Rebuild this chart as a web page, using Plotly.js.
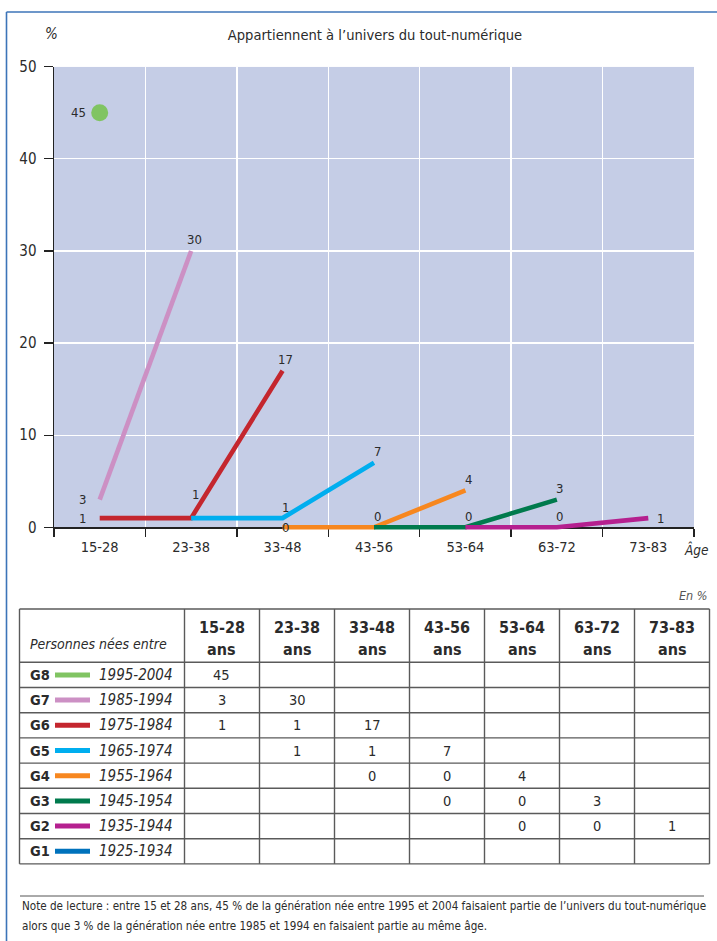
<!DOCTYPE html>
<html><head><meta charset="utf-8">
<script src="https://cdn.plot.ly/plotly-3.0.1.min.js"></script>
<style>html,body{margin:0;padding:0;background:#fff}#chart{width:717px;height:941px}</style>
</head><body><div id="chart"></div>
<script>
// ---------- DATA ----------
const ages = ['15-28','23-38','33-48','43-56','53-64','63-72','73-83'];
const genNames = ['G8','G7','G6','G5','G4','G3','G2','G1'];
const birthYears = ['1995-2004','1985-1994','1975-1984','1965-1974','1955-1964','1945-1954','1935-1944','1925-1934'];
const g8 = [45, null, null, null, null, null, null];
const g7 = [3, 30, null, null, null, null, null];
const g6 = [1, 1, 17, null, null, null, null];
const g5 = [null, 1, 1, 7, null, null, null];
const g4 = [null, null, 0, 0, 4, null, null];
const g3 = [null, null, null, 0, 0, 3, null];
const g2 = [null, null, null, null, 0, 0, 1];
const g1 = [null, null, null, null, null, null, null];
const seriesValues = [g8, g7, g6, g5, g4, g3, g2, g1];

// ---------- STYLE ----------
const genColors = ['#80c462','#cc90c4','#c4262e','#00aeef','#f7871f','#007a4d','#b5208f','#0072bc'];
// label placement per point: L=left, R=right, T=top, T2=higher top, C=centre, ''=hidden
const labelPos = [
  ['L'],
  ['L','T'],
  ['L','T2','T'],
  [null,'','T','T'],
  [null,null,'C','T','T'],
  [null,null,null,'','T','T'],
  [null,null,null,null,'','T','R'],
  []
];
const W = 717, H = 941;
const FONT = '"Liberation Sans Narrow","Arial Narrow","DejaVu Sans Condensed",sans-serif';
const TXT = '#2b2b2b';
const px = x => x / W, py = y => 1 - y / H;

// ---------- TRACES ----------
const traces = [];
seriesValues.forEach((vals, i) => {
  const isSingle = vals.filter(v => v !== null).length === 1;
  traces.push({
    type: 'scatter',
    x: ages, y: vals,
    mode: isSingle ? 'markers' : 'lines',
    line: {color: genColors[i], width: 4.6},
    marker: {color: genColors[i], size: 17},
    connectgaps: false, hoverinfo: 'skip', showlegend: false
  });
});

// ---------- ANNOTATIONS ----------
const ann = [];
seriesValues.forEach((vals, i) => {
  vals.forEach((v, j) => {
    const p = (labelPos[i] || [])[j];
    if (v === null || !p) return;
    const a = {xref: 'x', yref: 'y', x: ages[j], y: v, text: String(v), showarrow: false,
      font: {family: FONT, size: 13, color: TXT}, xanchor: 'center', yanchor: 'middle'};
    if (p === 'L') { a.xanchor = 'right'; a.xshift = -12; }
    if (p === 'R') { a.xanchor = 'left'; a.xshift = 7; }
    if (p === 'T') { a.xshift = 3; a.yshift = 11; }
    if (p === 'T2') { a.xshift = 4; a.yshift = 24; }
    if (p === 'C') { a.xshift = 3; a.yshift = 0; }
    ann.push(a);
  });
});
// axis decorations
ann.push({xref:'paper', yref:'paper', x: px(52), y: py(34), text:'<i>%</i>', showarrow:false,
  font:{family:FONT,size:15,color:TXT}, xanchor:'center', yanchor:'middle'});
ann.push({xref:'paper', yref:'paper', x: px(682), y: py(549), text:'<i>Âge</i>', showarrow:false,
  font:{family:FONT,size:13.5,color:TXT}, xanchor:'left', yanchor:'middle'});

// ---------- TABLE (shapes + annotations) ----------
const shapes = [];
const colX = [19.5,184.5,259.5,334.5,409.5,484.5,559.5,634.5,709.5];
const headTop = 609, headBot = 662.3, rowH = 25.2;
const rowY = [headTop, headBot];
for (let r = 1; r <= genNames.length; r++) rowY.push(headBot + r * rowH);
const tblBot = rowY[rowY.length - 1];
const gridCol = '#5a5a5a';
rowY.forEach(y => shapes.push({type:'line', xref:'paper', yref:'paper', x0:px(colX[0]), x1:px(colX[colX.length-1]), y0:py(y), y1:py(y), line:{color:gridCol,width:1.4}}));
colX.forEach(x => shapes.push({type:'line', xref:'paper', yref:'paper', x0:px(x), x1:px(x), y0:py(headTop), y1:py(tblBot), line:{color:gridCol,width:1.4}}));

ann.push({xref:'paper', yref:'paper', x: px(710), y: py(595), text:'<i>En %</i>', showarrow:false,
  font:{family:FONT,size:12.5,color:'#555'}, xanchor:'right', yanchor:'middle'});
ann.push({xref:'paper', yref:'paper', x: px(27.5), y: py(644), text:'<i>Personnes nées entre</i>', showarrow:false,
  font:{family:FONT,size:14,color:TXT}, xanchor:'left', yanchor:'middle'});
ages.forEach((ag, c) => {
  const cx = (colX[c+1] + colX[c+2]) / 2;
  ann.push({xref:'paper', yref:'paper', x: px(cx), y: py(627), text:'<b>'+ag+'</b>', showarrow:false,
    font:{family:FONT,size:16,color:TXT}, xanchor:'center', yanchor:'middle'});
  ann.push({xref:'paper', yref:'paper', x: px(cx), y: py(649), text:'<b>ans</b>', showarrow:false,
    font:{family:FONT,size:16,color:TXT}, xanchor:'center', yanchor:'middle'});
});
genNames.forEach((g, r) => {
  const cy = (rowY[r+1] + rowY[r+2]) / 2;
  ann.push({xref:'paper', yref:'paper', x: px(27.5), y: py(cy), text:'<b>'+g+'</b>', showarrow:false,
    font:{family:FONT,size:14.5,color:TXT}, xanchor:'left', yanchor:'middle'});
  shapes.push({type:'line', xref:'paper', yref:'paper', x0:px(55), x1:px(90), y0:py(cy), y1:py(cy), line:{color:genColors[r], width:5}});
  ann.push({xref:'paper', yref:'paper', x: px(96.7), y: py(cy), text:'<i>'+birthYears[r]+'</i>', showarrow:false,
    font:{family:FONT,size:15,color:TXT}, xanchor:'left', yanchor:'middle'});
  seriesValues[r].forEach((v, c) => {
    if (v === null) return;
    const cx = (colX[c+1] + colX[c+2]) / 2;
    ann.push({xref:'paper', yref:'paper', x: px(cx), y: py(cy), text:String(v), showarrow:false,
      font:{family:FONT,size:14.5,color:TXT}, xanchor:'center', yanchor:'middle'});
  });
});

// note
shapes.push({type:'line', xref:'paper', yref:'paper', x0:px(20), x1:px(704), y0:py(896), y1:py(896), line:{color:'#555',width:1}});
ann.push({xref:'paper', yref:'paper', x: px(20), y: py(906), text:"Note de lecture : entre 15 et 28 ans, 45 % de la génération née entre 1995 et 2004 faisaient partie de l’univers du tout-numérique", showarrow:false,
  font:{family:FONT,size:11.6,color:TXT}, xanchor:'left', yanchor:'middle'});
ann.push({xref:'paper', yref:'paper', x: px(20), y: py(926), text:"alors que 3 % de la génération née entre 1985 et 1994 en faisaient partie au même âge.", showarrow:false,
  font:{family:FONT,size:11.6,color:TXT}, xanchor:'left', yanchor:'middle'});

// frame
const frameCol = '#3c74b8';
shapes.push({type:'line', xref:'paper', yref:'paper', x0:px(6.5), x1:1, y0:py(12), y1:py(12), line:{color:frameCol,width:1.6}});
shapes.push({type:'line', xref:'paper', yref:'paper', x0:px(6.5), x1:px(6.5), y0:py(12), y1:0, line:{color:frameCol,width:1.6}});

// plot background limited to 0..50
shapes.push({type:'rect', xref:'x', yref:'y', x0:-0.5, x1:6.5, y0:0, y1:50, fillcolor:'#c5cde6', line:{width:0}, layer:'below'});

const y0px = 527.3, y50px = 66.7, yMin = -0.6;
const pxPerUnit = (y0px - y50px) / 50;
const layout = {
  width: W, height: H,
  margin: {l:0, r:0, t:0, b:0},
  paper_bgcolor: '#fff', plot_bgcolor: 'rgba(0,0,0,0)',
  showlegend: false,
  font: {family: FONT, color: TXT},
  title: {text: 'Appartiennent à l’univers du tout-numérique', x: px(375), y: py(35), xanchor:'center', yanchor:'middle',
    font: {family: FONT, size: 14.6, color: TXT}},
  xaxis: {
    type:'category', categoryorder:'array', categoryarray: ages, range:[-0.5, 6.5],
    domain:[px(54), px(694)], anchor:'free', position: py(y0px),
    tickson:'boundaries', ticks:'outside', ticklen:8, tickcolor:'#222', tickwidth:1.3,
    showline:true, linecolor:'#222', linewidth:1.5, showgrid:true, gridcolor:'#ffffff', gridwidth:1.5,
    tickfont:{family:FONT,size:14.5,color:TXT}, ticklabelstandoff:6, layer:'below traces', fixedrange:true, zeroline:false
  },
  yaxis: {
    range:[yMin, 50], domain:[py(y0px - yMin * pxPerUnit), py(y50px)],
    tickvals:[0,10,20,30,40,50], ticks:'outside', ticklen:9, tickcolor:'#222', tickwidth:1.3,
    showline:true, linecolor:'#222', linewidth:1.5, showgrid:true, gridcolor:'#ffffff', gridwidth:1.2,
    zeroline:false, tickfont:{family:FONT,size:15,color:TXT}, ticklabelstandoff:4, layer:'below traces', fixedrange:true
  },
  shapes: shapes,
  annotations: ann
};
Plotly.newPlot('chart', traces, layout, {staticPlot:true, displayModeBar:false});
</script></body></html>
